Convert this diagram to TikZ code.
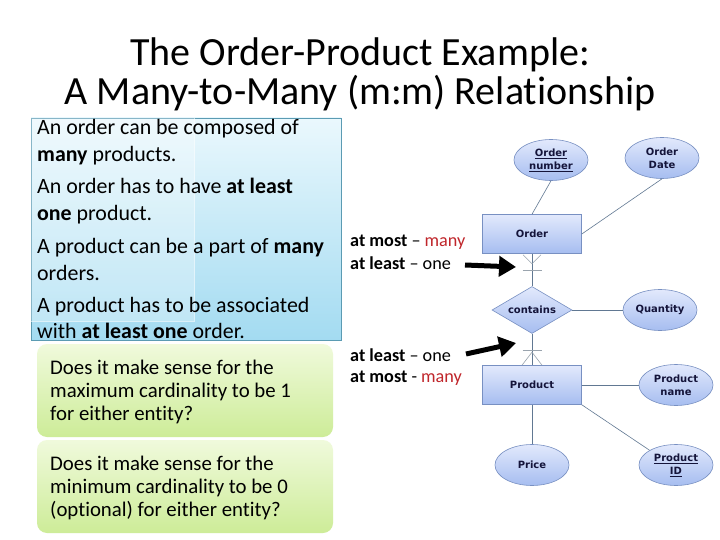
\documentclass[tikz,border=0pt]{standalone}
\usepackage{fontspec}
\setmainfont{Carlito}[Ligatures=NoCommon]
\newfontfamily\erfont{DejaVu Sans}
\usetikzlibrary{shapes.geometric,arrows.meta,calc}

\definecolor{bluetop}{HTML}{EAF8FD}
\definecolor{bluebot}{HTML}{A3DBF1}
\definecolor{blueedge}{HTML}{5B9BB3}
\definecolor{greentop}{HTML}{F0FADC}
\definecolor{greenbot}{HTML}{CDEC98}
\definecolor{ertop}{HTML}{E2E9FC}
\definecolor{erbot}{HTML}{A6BDF0}
\definecolor{eredge}{HTML}{7890C2}
\definecolor{ertext}{HTML}{14143A}
\definecolor{connc}{HTML}{617892}
\definecolor{crowc}{HTML}{9AA4AE}
\definecolor{manyred}{HTML}{C0262B}

\begin{document}
\begin{tikzpicture}[x=1pt,y=-1pt,
  titletext/.style={font=\fontsize{40}{44}\selectfont, anchor=base, inner sep=0pt},
  bodytext/.style={font=\fontsize{21.9}{26}\selectfont, anchor=base west, inner sep=0pt},
  qtext/.style={font=\fontsize{20.8}{24}\selectfont, anchor=base west, inner sep=0pt},
  cardtext/.style={font=\fontsize{18.2}{21}\selectfont, anchor=base west, inner sep=0pt},
  bluebox/.style={rectangle, draw=blueedge, line width=0.8pt, top color=bluetop, bottom color=bluebot, inner sep=0pt},
  greenbox/.style={rectangle, rounded corners=10pt, top color=greentop, bottom color=greenbot, inner sep=0pt},
  erbase/.style={draw=eredge, line width=0.6pt, top color=ertop, bottom color=erbot, text=ertext, inner sep=0pt, font=\erfont\bfseries\fontsize{10}{14}\selectfont, align=center},
  entity/.style={erbase, rectangle, minimum width=99pt, minimum height=39pt},
  attr/.style={erbase, ellipse, minimum width=74pt, minimum height=41pt},
  rel/.style={erbase, diamond, aspect=1.7, minimum width=80pt, minimum height=47pt},
  conn/.style={draw=connc, line width=0.6pt},
  crowline/.style={draw=crowc, line width=0.6pt},
  bigarrow/.style={line width=5pt, -{Triangle[length=17pt 0 0, width=20pt 0 0]}}
]
\useasboundingbox (0,0) rectangle (720,540);
\fill[white] (0,0) rectangle (720,540);

% Title
\node[titletext, text depth=6pt] (title1) at (360,66) {The Order-Product Example:};
\node[titletext, text height=27pt] (title2) at (360,105) {A Many-to-Many (m:m) Relationship};

% Blue box
\node[bluebox, minimum width=310pt, minimum height=222pt] (bbox) at (186,229) {};
\fill[white, opacity=0.28] (31,118) rectangle (194,321);
\draw[white, opacity=0.6, line width=0.6pt] (194,118) -- (194,321) -- (31,321);

\node[bodytext] (b1) at (37,135) {An order can be composed of};
\node[bodytext] (b2) at (37,162) {\textbf{many} products.};
\node[bodytext] (b3) at (37,194) {An order has to have \textbf{at least}};
\node[bodytext] (b4) at (37,221) {\textbf{one} product.};
\node[bodytext] (b5) at (37,253) {A product can be a part of \textbf{many}};
\node[bodytext] (b6) at (37,280) {orders.};
\node[bodytext] (b7) at (37,312) {A product has to be associated};
\node[bodytext] (b8) at (37,338) {with \textbf{at least one} order.};

% Green boxes
\node[greenbox, minimum width=296pt, minimum height=93pt] (g1) at (185,390.5) {};
\node[greenbox, minimum width=296pt, minimum height=93pt] (g2) at (185,486.5) {};
\node[qtext] (q1) at (50,374) {Does it make sense for the};
\node[qtext] (q2) at (50,397) {maximum cardinality to be 1};
\node[qtext] (q3) at (50,420) {for either entity?};
\node[qtext] (q4) at (50,470) {Does it make sense for the};
\node[qtext] (q5) at (50,493) {minimum cardinality to be 0};
\node[qtext] (q6) at (50,516) {(optional) for either entity?};

% Cardinality labels
\node[cardtext] (c1) at (350,247) {\textbf{at most} -- {\color{manyred}many}};
\node[cardtext] (c2) at (350,269) {\textbf{at least} -- one};
\node[cardtext] (c3) at (350,361) {\textbf{at least} -- one};
\node[cardtext] (c4) at (350,382) {\textbf{at most} - {\color{manyred}many}};

% ER diagram
\node[attr] (onum) at (551,160) {\underline{Order}\\[-1pt]\underline{number}};
\node[attr] (odate) at (662,158) {Order\\[-1pt]Date};
\node[entity] (order) at (532,234) {Order};
\node[rel] (contains) at (532,310) {contains};
\node[attr] (qty) at (660,310) {Quantity};
\node[entity] (product) at (532,385) {Product};
\node[attr] (pname) at (676,385) {Product\\[-1pt]name};
\node[attr] (price) at (532,465) {Price};
\node[attr] (pid) at (676,465) {\underline{Product}\\[-1pt]\underline{ID}};

\draw[conn] (onum.south) -- (order.north);
\draw[conn] (odate.south) -- (order.east);
\draw[conn] (order.south) -- (contains.north);
\draw[conn] (contains.east) -- (qty.west);
\draw[conn] (contains.south) -- (product.north);
\draw[conn] (product.east) -- (pname.west);
\draw[conn] (product.south) -- (price.north);
\draw[conn] (product.south east) -- (pid.north west);

% crow's feet and bars
\draw[crowline] ($(order.south)+(-9,1)$) -- ($(order.south)+(0,10)$) -- ($(order.south)+(9,1)$);
\draw[crowline] ($(order.south)+(-9.5,16)$) -- ($(order.south)+(9.5,16)$);
\draw[crowline] ($(product.north)+(-10,0)$) -- ($(product.north)+(0,-13)$) -- ($(product.north)+(10,0)$);
\draw[crowline] ($(product.north)+(-9.5,-15)$) -- ($(product.north)+(9.5,-15)$);

% arrows
\coordinate (a1s) at (465,265);
\coordinate (a1e) at (516,267);
\coordinate (a2s) at (466,354);
\coordinate (a2e) at (516,343);
\draw[bigarrow] (a1s) -- (a1e);
\draw[bigarrow] (a2s) -- (a2e);
\end{tikzpicture}
\end{document}
